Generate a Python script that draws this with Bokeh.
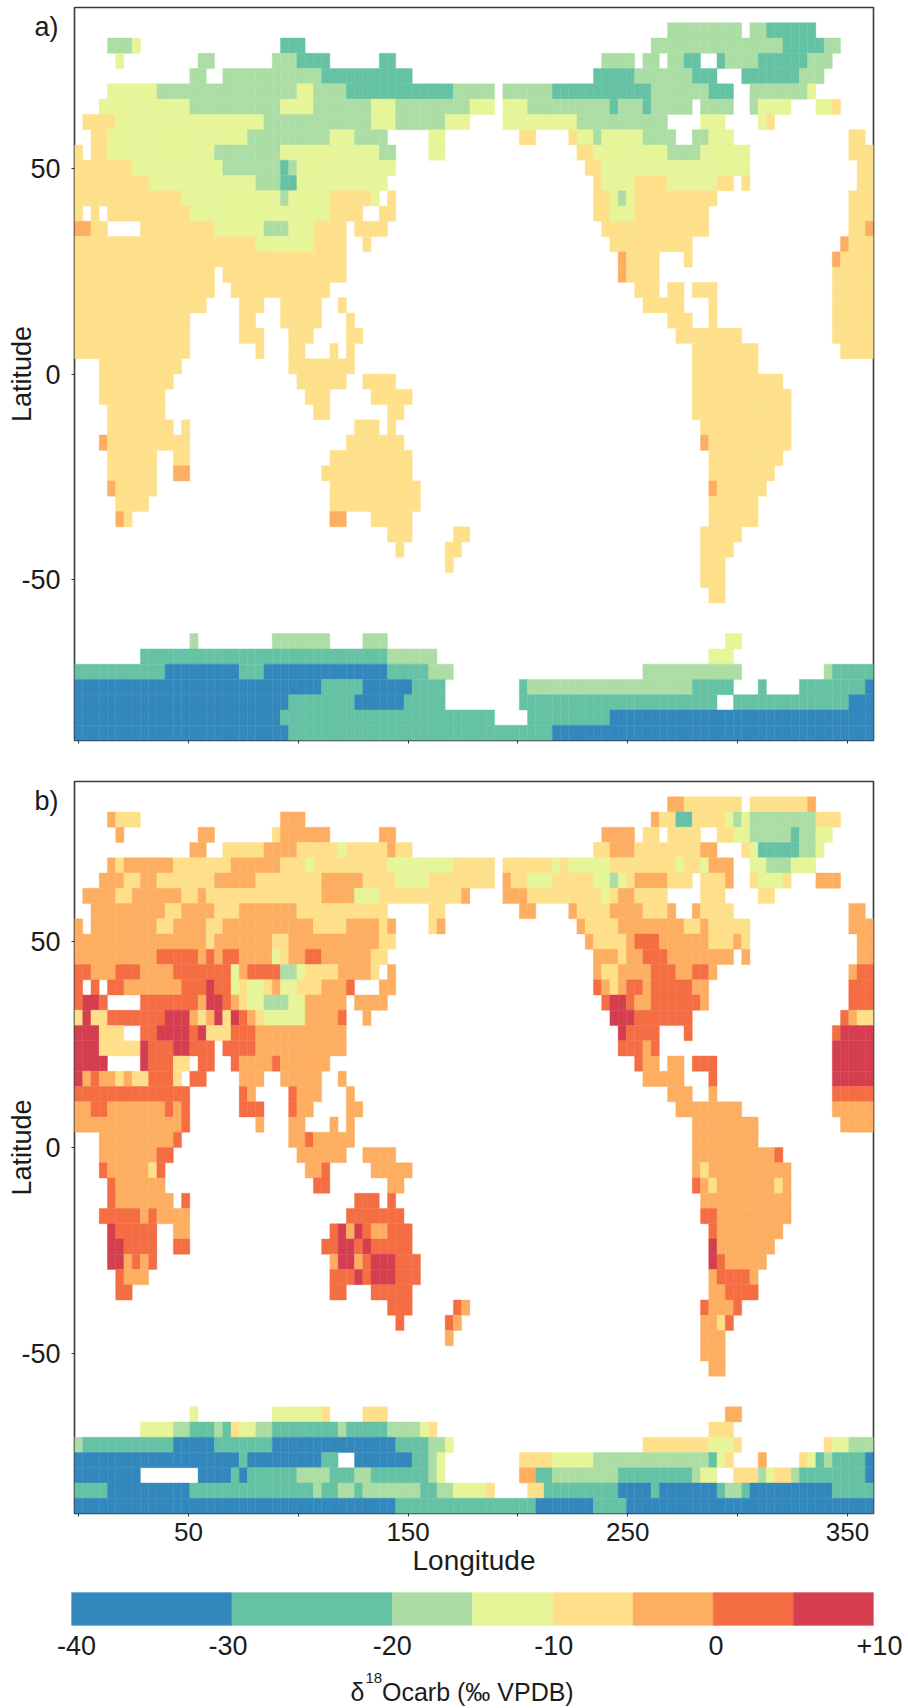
from bokeh.plotting import figure
from bokeh.layouts import column
from bokeh.models import ColumnDataSource, FixedTicker, LinearAxis
from bokeh.core.properties import value
from bokeh.embed import file_html
from bokeh.resources import INLINE
import numpy as np

CLASS_EDGES = [-40, -30, -20, -15, -10, -5, 0, 5, 10]
CLASS_COLORS = ["#3288bd", "#66c2a5", "#abdda4", "#e6f598", "#fee08b", "#fdae61", "#f46d43", "#d53e4f"]
LON_TICKS = [0, 50, 100, 150, 200, 250, 300, 350]
LON_LABELS = {50: "50", 150: "150", 250: "250", 350: "350"}
LAT_TICKS = [-50, 0, 50]
LAT_LABELS = {-50: "-50", 0: "0", 50: "50"}
CBAR_TICKS = [-40, -30, -20, -10, 0, 10]
CBAR_LABELS = ["-40", "-30", "-20", "-10", "0", "+10"]

# One string per latitude row, north to south: "firstcol-endcol:class" for each run of grid cells.
ROWS_A = [
    "",
    "72-81:2 82-84:2 84-90:1",
    "4-7:2 7-8:3 25-28:1 70-86:2 86-91:1 91-93:2",
    "5-6:3 15-17:2 24-27:2 27-31:1 37-39:1 64-68:2 69-71:2 72-74:2 74-76:1 78-79:1 79-83:2 83-89:1 89-92:2",
    "14-16:2 18-30:2 30-41:1 63-68:1 68-75:2 75-78:1 81-88:1 88-91:2",
    "4-10:3 10-27:2 27-29:3 29-33:2 33-46:1 46-51:2 52-58:2 58-70:1 70-77:2 77-80:1 82-89:2 89-90:3",
    "3-14:3 14-25:2 25-29:3 29-36:2 36-39:3 39-48:2 48-51:3 52-55:3 55-65:2 65-66:1 66-69:2 69-70:1 70-75:2 76-80:2 82-83:2 83-87:3 90-92:3 92-93:4",
    "1-5:4 5-23:3 23-36:2 36-39:3 39-45:2 45-48:3 52-61:3 61-72:2 76-79:3 83-84:3 84-85:4",
    "2-4:4 4-21:3 21-31:2 31-34:3 34-38:2 43-45:3 54-56:4 60-61:4 61-63:3 63-64:2 64-69:3 69-73:2 75-77:2 77-80:3 94-96:4",
    "0-1:4 2-4:4 4-17:3 17-25:2 25-37:3 37-39:2 43-45:3 61-63:4 63-72:3 72-76:2 76-82:3 94-97:4",
    "0-7:4 7-18:3 18-25:2 25-26:1 26-27:2 27-39:3 62-64:4 64-82:3 95-97:4",
    "0-9:4 9-22:3 22-25:2 25-27:1 27-38:3 63-64:4 64-68:3 68-72:4 72-78:3 78-80:4 81-82:4 95-97:4",
    "0-13:4 13-25:3 25-26:2 26-31:3 31-36:4 36-37:3 38-39:4 63-65:4 65-66:3 66-67:2 67-68:3 68-78:4 94-97:4",
    "0-1:4 2-3:4 4-14:4 14-31:3 31-35:4 37-39:4 63-65:4 65-68:3 68-77:4 94-97:4",
    "0-2:5 2-4:4 8-17:4 17-23:3 23-26:2 26-29:3 29-33:4 34-38:4 64-77:4 94-96:4 96-97:5",
    "0-22:4 22-29:3 29-33:4 35-36:4 65-75:4 93-94:5 94-97:4",
    "0-33:4 66-67:5 67-71:4 74-75:4 92-93:5 93-97:4",
    "0-17:4 18-33:4 66-67:5 67-71:4 92-97:4",
    "0-17:4 19-31:4 68-71:4 72-74:4 75-78:4 92-97:4",
    "0-16:4 20-23:4 25-30:4 32-33:4 69-74:4 77-78:4 92-97:4",
    "0-14:4 20-22:4 25-30:4 33-34:4 72-75:4 77-78:4 92-97:4",
    "0-14:4 20-23:4 26-29:4 33-35:4 73-81:4 92-97:4",
    "0-14:4 22-23:4 26-28:4 31-32:4 33-34:4 75-83:4 93-97:4",
    "3-13:4 26-34:4 75-83:4",
    "3-12:4 27-33:4 35-39:4 75-86:4",
    "3-11:4 28-31:4 36-41:4 75-87:4",
    "4-11:4 29-31:4 38-40:4 75-87:4",
    "4-12:4 13-14:4 34-37:4 38-39:4 76-87:4",
    "3-4:5 4-14:4 33-40:4 76-77:5 77-87:4",
    "4-10:4 12-14:4 31-41:4 77-86:4",
    "4-10:4 12-14:5 30-41:4 77-85:4",
    "4-5:5 5-10:4 31-42:4 77-78:5 78-84:4",
    "5-9:4 31-42:4 77-83:4",
    "5-6:5 6-7:4 31-33:5 36-41:4 77-83:4",
    "38-41:4 46-48:4 76-81:4",
    "39-40:4 45-47:4 76-80:4",
    "45-46:4 76-79:4",
    "76-79:4",
    "77-79:4",
    "",
    "",
    "14-15:2 24-31:2 35-38:2 79-81:3",
    "8-38:1 38-44:2 77-80:3",
    "0-11:1 11-20:0 20-23:1 23-38:0 38-43:1 43-46:2 69-81:2 91-92:2 92-97:1",
    "0-30:0 30-35:1 35-41:0 41-45:1 54-55:1 55-75:2 75-80:1 83-84:1 88-96:1 96-97:0",
    "0-26:0 26-34:1 34-40:0 40-45:1 54-78:1 80-94:1 94-97:0",
    "0-25:0 25-51:1 55-65:1 65-97:0",
    "0-26:0 26-58:1 58-97:0",
]

ROWS_B = [
    "",
    "72-74:5 74-81:4 82-89:4 89-90:5",
    "4-5:5 5-8:4 25-28:5 70-71:5 71-73:4 73-75:1 75-79:4 79-80:3 80-81:2 81-82:3 82-90:2 90-93:4",
    "5-6:5 15-17:5 24-25:4 25-31:5 37-39:5 64-68:5 69-71:4 72-76:4 78-80:4 80-82:3 82-87:2 87-88:1 88-90:2 90-92:3",
    "14-16:5 18-23:4 23-27:5 27-32:4 32-33:3 33-38:4 38-39:5 39-41:4 63-65:4 65-68:5 68-76:4 76-78:5 81-82:4 82-83:3 83-88:1 88-90:2 90-91:3",
    "4-5:5 5-6:4 6-12:5 12-19:4 19-25:5 25-28:4 28-29:3 29-38:4 38-46:3 46-51:4 52-58:4 58-59:3 59-60:4 60-65:3 65-73:4 73-74:3 74-76:4 76-77:3 77-80:5 82-84:3 84-87:2 87-90:3",
    "3-6:5 6-8:4 8-10:5 10-17:4 17-22:5 22-30:4 30-35:5 35-39:4 39-43:3 43-51:4 52-53:5 53-55:4 55-58:3 58-63:4 63-65:3 65-66:2 66-67:3 67-68:4 68-72:5 72-75:4 76-79:4 79-80:5 82-83:4 83-86:3 86-87:4 90-93:5",
    "1-5:5 5-7:4 7-13:5 13-15:4 15-16:5 16-30:4 30-34:5 34-37:3 37-47:4 47-48:5 52-55:5 55-64:4 64-65:3 65-66:4 66-68:5 68-72:4 76-79:4 83-85:4",
    "2-11:5 11-13:4 13-17:5 17-20:4 20-27:5 27-38:4 43-45:4 54-56:5 60-61:5 61-65:4 65-69:5 69-72:4 72-73:5 75-76:5 76-80:4 94-96:5",
    "0-1:5 2-10:5 10-12:4 12-16:5 16-18:4 18-29:5 29-33:4 33-37:5 37-38:4 38-39:5 43-44:4 44-45:5 61-62:5 62-66:4 66-74:5 74-76:4 76-77:5 77-82:4 94-97:5",
    "0-16:5 16-17:4 17-24:5 24-26:4 26-37:5 37-39:4 62-63:5 63-67:4 67-68:5 68-71:6 71-77:5 77-80:4 80-81:5 81-82:4 95-97:5",
    "0-10:5 10-15:6 15-16:5 16-17:6 17-18:5 18-20:6 20-24:5 24-25:3 25-26:4 26-28:5 28-30:6 30-36:5 36-38:4 63-66:5 66-67:4 67-69:5 69-72:6 72-80:5 81-82:5 95-97:5",
    "0-2:6 2-5:5 5-8:6 8-12:5 12-19:6 19-20:3 20-21:5 21-25:6 25-27:2 27-28:3 28-32:4 32-36:5 36-37:4 38-39:5 63-64:5 64-66:4 66-70:5 70-73:6 73-75:5 75-77:6 77-78:5 94-95:5 95-97:6",
    "0-1:6 2-3:6 4-6:6 6-13:5 13-16:6 16-17:7 17-19:6 19-20:3 20-21:4 21-23:3 23-24:4 24-25:5 25-27:3 27-30:4 30-33:5 33-34:6 37-39:5 63-64:6 64-65:5 65-66:4 66-67:5 67-69:6 69-70:5 70-75:6 75-77:5 94-97:6",
    "0-1:6 1-3:7 3-4:6 8-15:6 15-16:5 16-18:7 18-19:6 19-20:5 20-21:4 21-23:3 23-26:2 26-28:3 28-33:5 34-38:5 64-65:6 65-67:7 67-68:6 68-70:5 70-76:6 76-77:5 94-97:6",
    "0-1:4 1-2:7 2-4:4 4-11:6 11-14:7 14-15:5 15-16:4 16-17:5 17-18:7 18-19:4 19-20:7 20-21:6 21-22:5 22-23:4 23-28:3 28-32:5 32-33:6 35-36:5 65-68:7 68-75:6 93-94:6 94-95:5 95-97:4",
    "0-3:7 3-6:4 8-10:6 10-14:7 14-15:6 15-16:7 16-19:4 19-22:6 22-33:5 66-67:7 67-71:6 74-75:6 92-93:6 93-97:7",
    "0-3:7 3-8:4 8-9:7 9-12:6 12-14:7 14-17:6 18-22:6 22-33:5 66-69:6 69-70:5 70-71:6 92-97:7",
    "0-4:7 8-9:7 9-12:6 12-14:4 15-17:6 19-20:6 20-24:5 24-25:6 25-31:5 68-69:6 69-71:5 72-74:5 75-78:6 92-97:7",
    "0-1:7 1-2:5 2-3:6 3-5:5 5-6:4 6-7:5 7-9:4 9-12:6 12-13:4 14-16:6 20-23:5 25-30:5 32-33:5 69-74:5 77-78:6 92-97:7",
    "0-14:6 20-21:6 21-22:5 26-27:6 27-30:5 33-34:5 72-75:5 77-78:5 92-97:6",
    "0-2:5 2-4:6 4-11:5 11-12:6 12-13:5 13-14:6 20-23:6 26-27:6 27-29:5 33-35:5 73-81:5 92-97:5",
    "0-13:5 13-14:6 22-23:5 26-28:5 31-32:5 33-34:5 75-83:5 93-97:5",
    "3-12:5 12-13:6 26-28:5 28-29:6 29-34:5 75-83:5",
    "3-10:5 10-12:6 27-33:5 35-39:5 75-85:5 85-86:6",
    "3-4:6 4-9:5 9-10:4 10-11:6 28-30:5 30-31:6 36-41:5 75-76:5 76-77:4 77-87:5",
    "4-5:6 5-11:5 29-31:6 38-40:5 75-76:6 76-77:5 77-78:4 78-85:5 85-86:4 86-87:5",
    "4-5:6 5-12:5 13-14:6 34-37:6 38-39:6 76-87:5",
    "3-8:6 8-9:5 9-10:6 10-14:5 33-40:6 76-78:6 78-87:5",
    "4-5:7 5-10:6 12-14:5 31-32:6 32-33:7 33-34:5 34-35:7 35-36:6 36-38:5 38-41:6 77-78:6 78-86:5",
    "4-6:7 6-10:6 12-14:6 30-32:6 32-34:7 34-35:6 35-36:7 36-41:6 77-78:7 78-85:5",
    "4-6:7 6-7:5 7-8:6 8-9:5 9-10:6 31-32:5 32-34:7 34-35:5 35-36:6 36-39:7 39-42:6 77-78:7 78-79:6 79-84:5",
    "5-6:6 6-9:5 31-34:6 34-35:7 35-36:6 36-39:7 39-42:6 77-78:5 78-82:6 82-83:5",
    "5-7:6 31-33:6 36-41:6 77-79:5 79-83:6",
    "38-41:6 46-47:6 47-48:5 76-77:6 77-80:5 80-81:6",
    "39-40:6 45-46:6 46-47:5 76-78:5 78-79:4 79-80:6",
    "45-46:5 76-79:5",
    "76-79:5",
    "77-79:5",
    "",
    "",
    "14-15:3 24-30:3 30-31:4 35-38:4 79-81:5",
    "8-12:3 12-14:2 14-17:1 17-18:2 18-19:1 19-20:4 20-22:3 22-24:2 24-32:1 32-33:2 33-38:1 38-42:2 42-43:3 43-44:4 77-80:4",
    "0-1:2 1-12:1 12-17:0 17-24:1 24-39:0 39-43:1 43-45:2 45-46:3 69-77:4 77-80:3 80-81:4 91-92:4 92-94:3 94-97:2",
    "0-20:0 20-21:1 21-30:0 30-32:1 34-41:0 41-43:1 43-44:2 44-45:3 54-58:4 58-63:3 63-77:2 77-78:1 78-79:3 79-80:4 83-84:5 88-89:4 89-90:3 90-91:1 91-92:2 92-96:1 96-97:0",
    "0-8:0 15-19:0 19-20:1 20-21:0 21-27:1 27-31:2 31-34:1 34-36:2 36-43:1 43-44:2 44-45:3 54-56:5 56-58:1 58-66:2 66-75:1 75-76:2 76-78:3 80-83:4 83-84:2 84-85:3 85-87:4 87-88:2 88-96:1 96-97:0",
    "0-4:1 4-14:0 14-29:1 29-30:2 30-32:1 32-34:2 34-35:1 35-42:2 42-44:1 44-46:2 46-50:3 50-51:4 55-57:4 57-66:1 66-70:0 70-71:1 71-78:0 78-79:1 79-81:2 81-82:1 82-92:0 92-97:1",
    "0-39:0 39-56:1 56-63:0 63-67:1 67-97:0",
]

X_RANGE = (-1.875, 361.875)
Y_RANGE = (-89.05, 89.05)
TAG_LAT = 84.4
INK = "#1c1c1c"
FONT = "Liberation Sans"


def cells(rows):
    lon_step = (X_RANGE[1] - X_RANGE[0]) / 97
    lat_edges = np.linspace(Y_RANGE[1], Y_RANGE[0], 49)
    d = dict(left=[], right=[], top=[], bottom=[], color=[], delta=[])
    for r, row in enumerate(rows):
        for run in row.split():
            span, cls = run.split(":")
            a, b = span.split("-")
            for c in range(int(a), int(b)):
                d["left"].append(X_RANGE[0] + c * lon_step)
                d["right"].append(X_RANGE[0] + (c + 1) * lon_step)
                d["top"].append(lat_edges[r])
                d["bottom"].append(lat_edges[r + 1])
                d["color"].append(CLASS_COLORS[int(cls)])
                d["delta"].append((CLASS_EDGES[int(cls)] + CLASS_EDGES[int(cls) + 1]) / 2)
    return ColumnDataSource(d)


def panel(rows, tag, top, bottom, frame_h, show_x):
    p = figure(frame_width=799, frame_height=frame_h, x_range=X_RANGE, y_range=Y_RANGE,
               output_backend="svg", toolbar_location=None,
               min_border_left=74, min_border_right=35, min_border_top=top, min_border_bottom=bottom,
               background_fill_color="white", border_fill_color="white")
    p.grid.visible = False
    p.quad(left="left", right="right", top="top", bottom="bottom", source=cells(rows),
           fill_color="color", line_color="color", line_width=0.4)
    p.outline_line_color = "#3a3a3a"
    p.outline_line_width = 1.6
    for ax in (p.xaxis[0], p.yaxis[0]):
        ax.axis_line_color = None
        ax.major_tick_line_color = "#333333"
        ax.major_tick_line_width = 1
        ax.major_tick_out = 3
        ax.major_tick_in = 0
        ax.minor_tick_line_color = None
        ax.major_label_text_font = FONT
        ax.major_label_text_font_size = "27px"
        ax.major_label_text_color = INK
        ax.axis_label_text_font = FONT
        ax.axis_label_text_font_size = "27px"
        ax.axis_label_text_font_style = "normal"
        ax.axis_label_text_color = INK
    p.xaxis[0].ticker = FixedTicker(ticks=LON_TICKS)
    p.yaxis[0].ticker = FixedTicker(ticks=LAT_TICKS)
    p.yaxis[0].major_label_overrides = LAT_LABELS
    p.yaxis[0].axis_label = "Latitude"
    p.yaxis[0].axis_label_standoff = -19
    p.yaxis[0].major_label_standoff = 11
    p.yaxis[0].major_label_orientation = "horizontal"
    if show_x:
        p.xaxis[0].major_label_overrides = {t: LON_LABELS.get(t, "") for t in LON_TICKS}
        p.xaxis[0].major_label_text_font_size = "26px"
        p.xaxis[0].axis_label = "Longitude"
        p.xaxis[0].axis_label_text_font_size = "28px"
        p.xaxis[0].axis_label_standoff = 1
        p.xaxis[0].major_label_standoff = 6
    else:
        p.xaxis[0].major_label_overrides = {t: "" for t in LON_TICKS}
        p.xaxis[0].major_label_standoff = 0
    # Panel letter: an extra left axis with one tick, no tick line and a label pulled back to its place.
    tag_axis = LinearAxis(ticker=FixedTicker(ticks=[TAG_LAT]), major_label_overrides={TAG_LAT: tag},
                          axis_line_color=None, major_tick_line_color=None, minor_tick_line_color=None,
                          major_tick_out=0, major_tick_in=0, major_label_standoff=-54,
                          major_label_text_font=FONT, major_label_text_font_size="27px",
                          major_label_text_color=INK, major_label_orientation="horizontal")
    p.add_layout(tag_axis, "left")
    return p


p1 = panel(ROWS_A, "a)", 7, 10, 733, False)
p2 = panel(ROWS_B, "b)", 31, 67, 732, True)

# Colour key: its frame covers the whole strip of page, so that its texts can sit round the bar.
KEY_W, KEY_H = 908, 128
KEY_LEFT, KEY_TOP, KEY_BAR_W, KEY_BAR_H = 71, 12, 802, 33
per_px = (CLASS_EDGES[-1] - CLASS_EDGES[0]) / KEY_BAR_W
x0 = CLASS_EDGES[0] - KEY_LEFT * per_px
p3 = figure(frame_width=KEY_W, frame_height=KEY_H,
            x_range=(x0, x0 + KEY_W * per_px),
            y_range=(KEY_H - KEY_TOP, -KEY_TOP),
            output_backend="svg", toolbar_location=None, x_axis_type=None, y_axis_type=None,
            min_border_left=0, min_border_right=0, min_border_top=0, min_border_bottom=0,
            background_fill_color="white", border_fill_color="white", outline_line_color=None)
p3.grid.visible = False
p3.quad(left=CLASS_EDGES[:-1], right=CLASS_EDGES[1:], top=0, bottom=KEY_BAR_H,
        fill_color=CLASS_COLORS, line_color=CLASS_COLORS, line_width=0.3)
p3.text(x=CBAR_TICKS, y=[KEY_BAR_H + 20] * 6, text=CBAR_LABELS, x_offset=[5, -4, 0, 1, 3, 6],
        text_align="center", text_baseline="middle", text_font=value(FONT), text_font_size="27px", text_color=INK)
p3.text(x=[CLASS_EDGES[0]] * 3, y=[KEY_BAR_H + 66, KEY_BAR_H + 52, KEY_BAR_H + 66],
        text=["\u03b4", "18", "Ocarb (\u2030 VPDB)"], x_offset=[279, 294, 310.5],
        text_align="left", text_baseline="middle", text_font=value(FONT),
        text_font_size=["25px", "15px", "25px"], text_color=INK)

page = column(column(p1), column(p2), column(p3), spacing=0)
open("out.html", "w").write(file_html(page, INLINE))
